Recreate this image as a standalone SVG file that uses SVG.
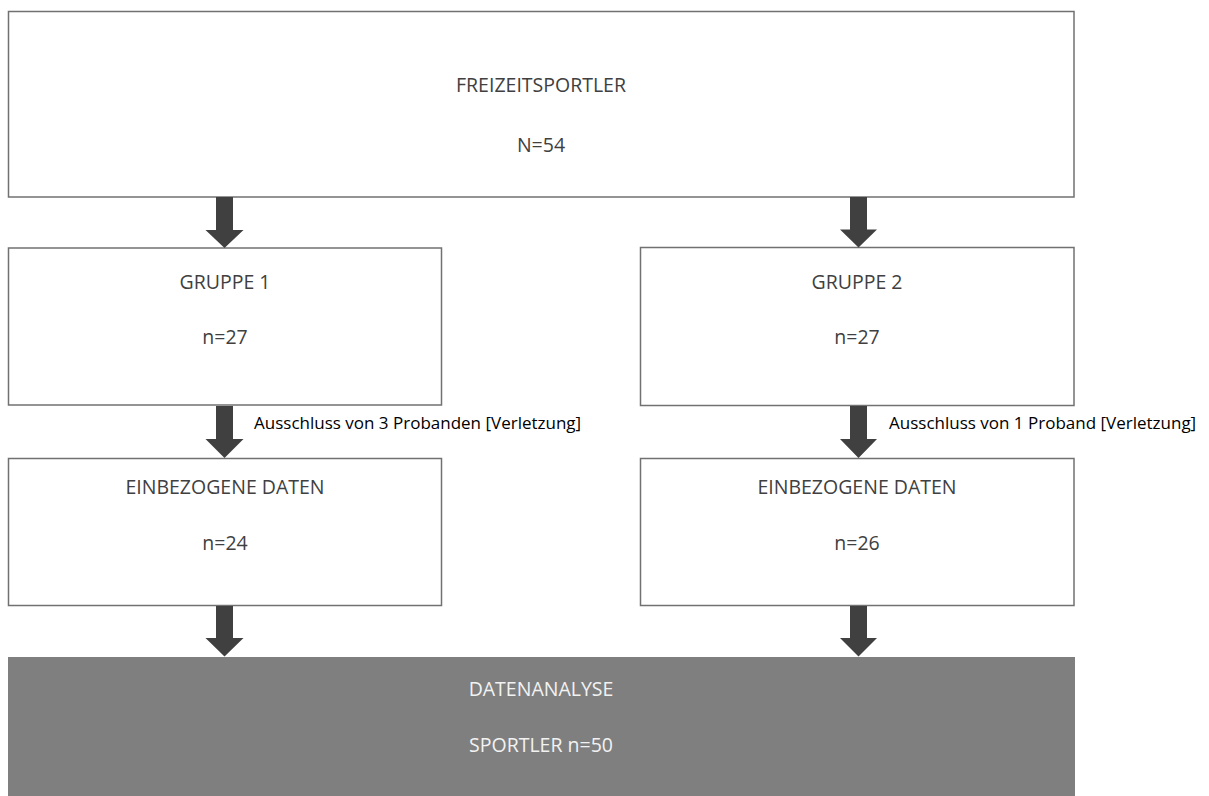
<svg xmlns="http://www.w3.org/2000/svg" width="1209" height="796" viewBox="0 0 1209 796">
<defs>
<style>
.box{fill:#ffffff;stroke:#717171;stroke-width:1.5}
.dark{fill:#7f7f7f;stroke:none}
.t{font-family:"Open Sans","Liberation Sans",sans-serif;font-size:19.5px;fill:#404040;text-anchor:middle}
.tw{font-family:"Open Sans","Liberation Sans",sans-serif;font-size:19.5px;fill:#f2f2f2;text-anchor:middle}
.lbl{font-family:"Open Sans","Liberation Sans",sans-serif;font-size:17px;fill:#000000}
.arr{fill:#404040}
</style>
</defs>
<rect width="1209" height="796" fill="#ffffff"/>
<g id="freizeitsportler">
<rect class="box" x="8.5" y="11.5" width="1065.5" height="185.5"/>
<text class="t" x="541" y="92">FREIZEITSPORTLER</text>
<text class="t" x="541" y="151.5">N=54</text>
</g>
<g id="gruppe1">
<rect class="box" x="8.5" y="248" width="433" height="157"/>
<text class="t" x="225" y="288.5">GRUPPE 1</text>
<text class="t" x="225" y="344">n=27</text>
</g>
<g id="gruppe2">
<rect class="box" x="640.5" y="247.5" width="433.5" height="158"/>
<text class="t" x="857" y="288.5">GRUPPE 2</text>
<text class="t" x="857" y="344">n=27</text>
</g>
<g id="daten1">
<rect class="box" x="8.5" y="458.5" width="433" height="147"/>
<text class="t" x="225" y="494">EINBEZOGENE DATEN</text>
<text class="t" x="225" y="550">n=24</text>
</g>
<g id="daten2">
<rect class="box" x="640.5" y="458.5" width="433.5" height="147"/>
<text class="t" x="857" y="494">EINBEZOGENE DATEN</text>
<text class="t" x="857" y="550">n=26</text>
</g>
<g id="datenanalyse">
<rect class="dark" x="8" y="657" width="1067" height="139"/>
<text class="tw" x="541" y="696">DATENANALYSE</text>
<text class="tw" x="541" y="752">SPORTLER n=50</text>
</g>
<g id="connectors">
<polygon class="arr" points="216,197 233,197 233,230 243.5,230 224.5,248 205.5,230 216,230"/>
<polygon class="arr" points="850,197 867,197 867,229.5 877,229.5 858.5,247.5 840,229.5 850,229.5"/>
<polygon class="arr" points="216,406 233,406 233,439 243.5,439 224.5,458 205.5,439 216,439"/>
<polygon class="arr" points="850,406 867,406 867,439 877,439 858.5,458 840,439 850,439"/>
<polygon class="arr" points="216,606 233,606 233,638 243.5,638 224.5,656.5 205.5,638 216,638"/>
<polygon class="arr" points="850,606 867,606 867,638 877,638 858.5,656.5 840,638 850,638"/>
<text class="lbl" x="254" y="429">Ausschluss von 3 Probanden [Verletzung]</text>
<text class="lbl" x="889" y="429">Ausschluss von 1 Proband [Verletzung]</text>
</g>
</svg>
